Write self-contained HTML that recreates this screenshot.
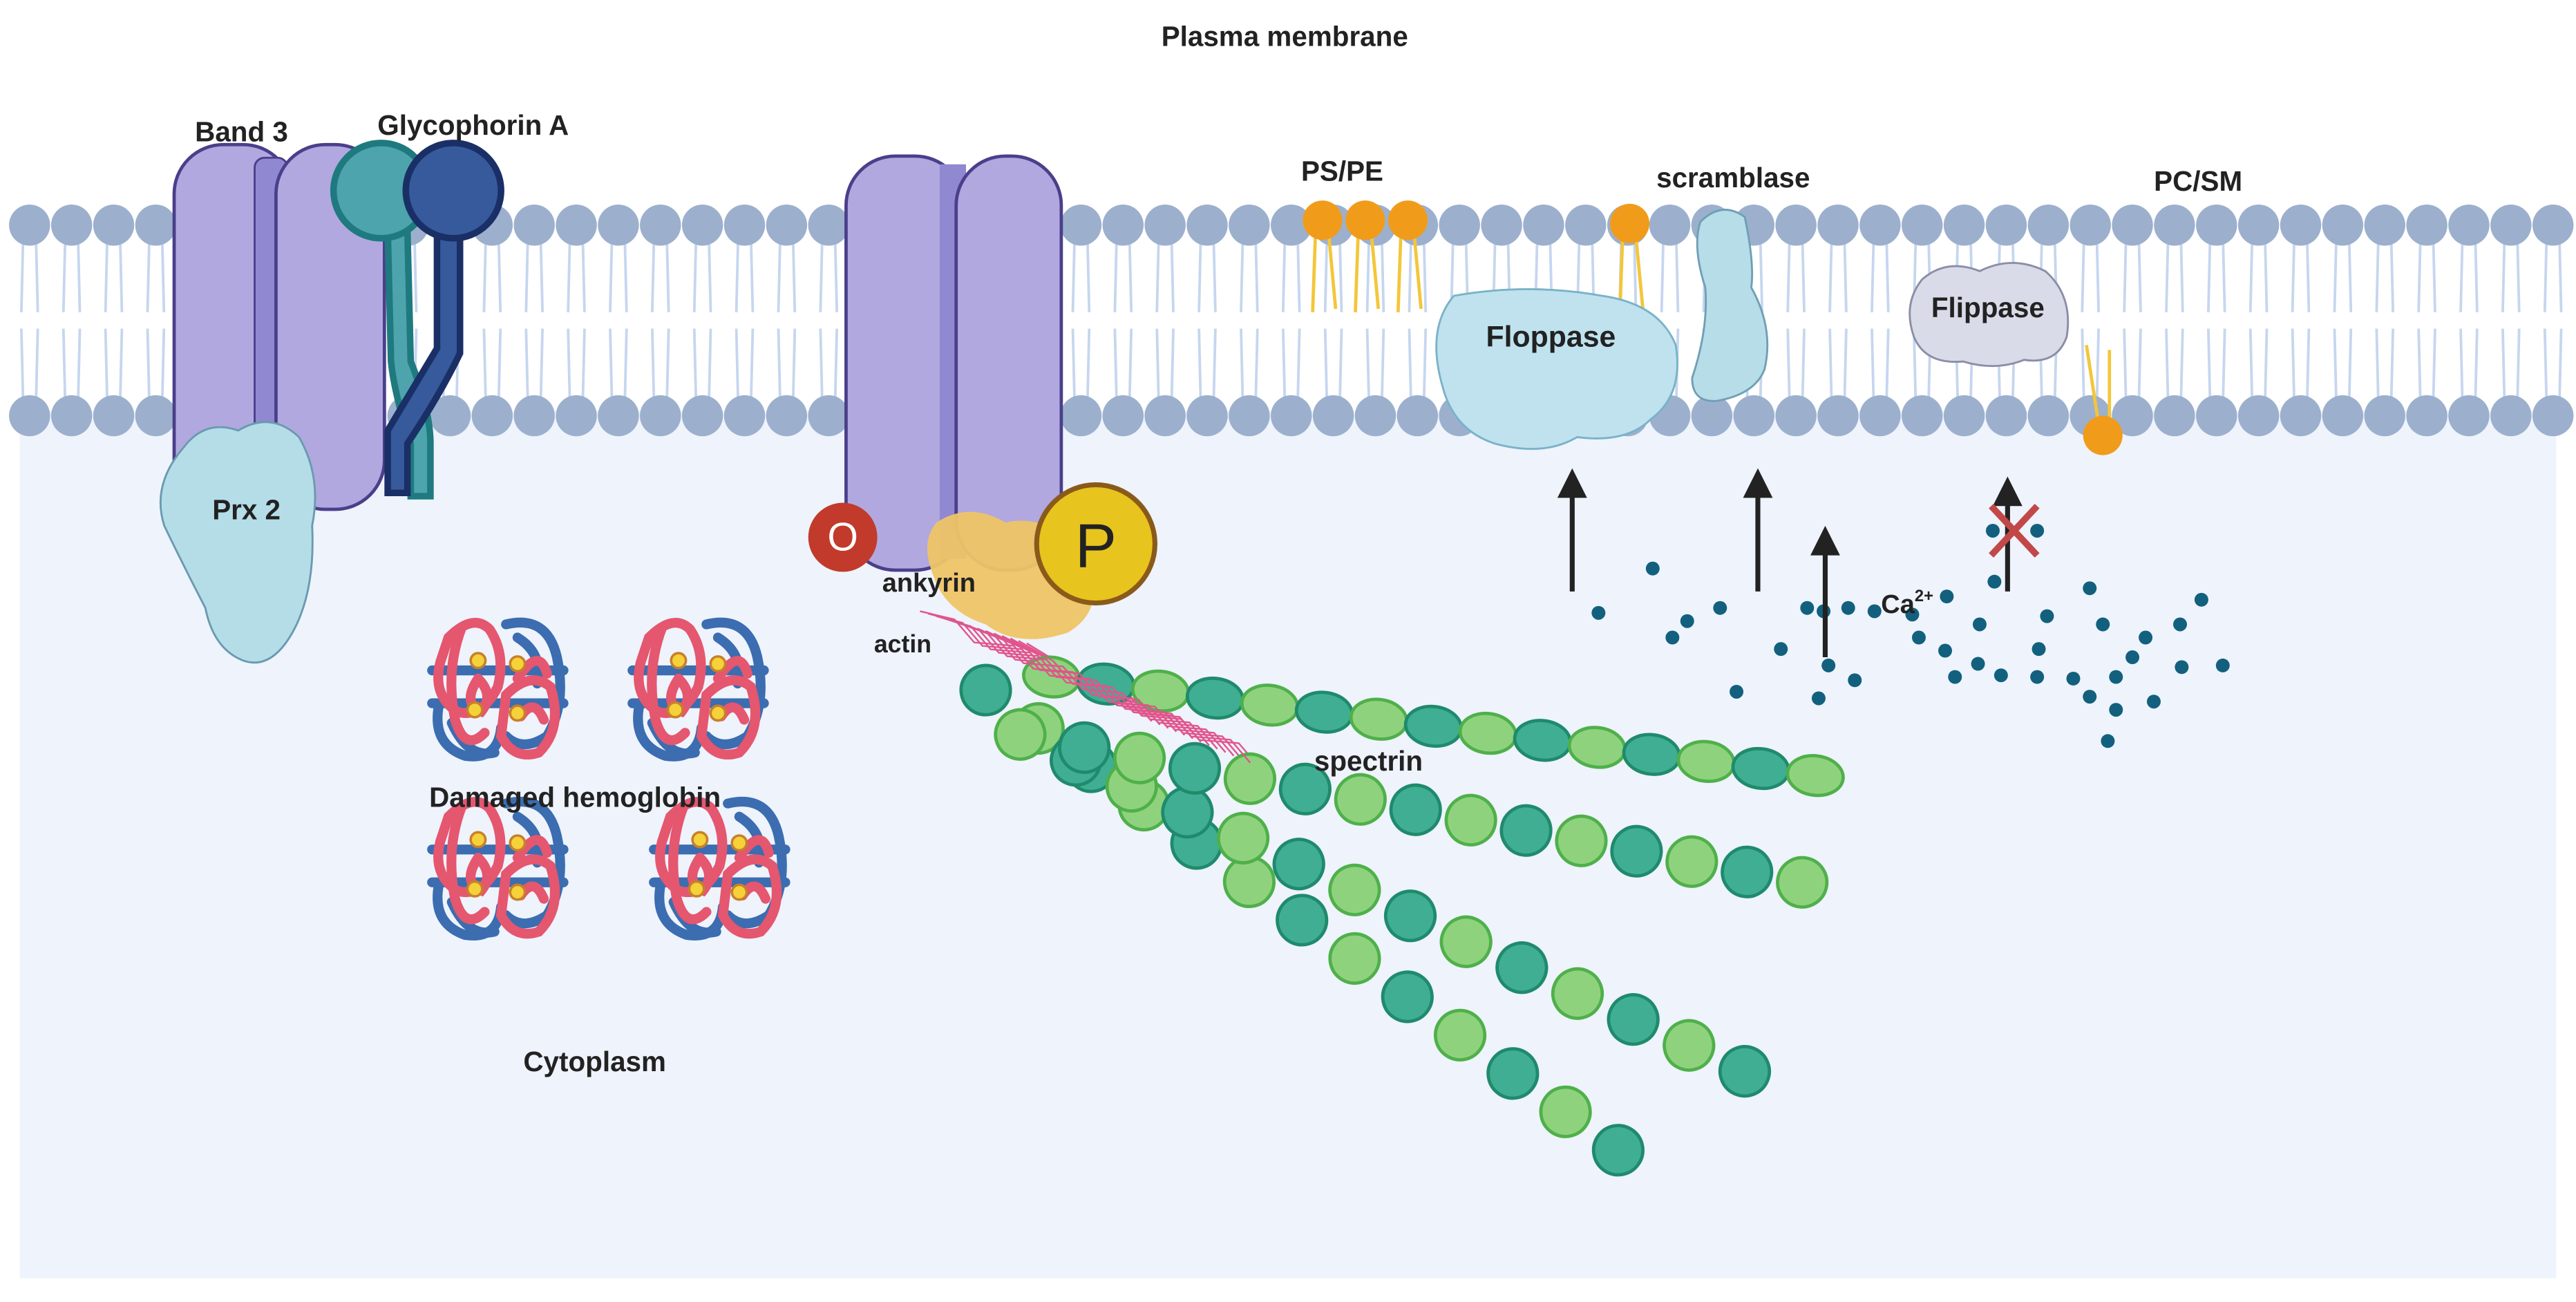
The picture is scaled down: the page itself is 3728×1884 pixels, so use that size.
<!DOCTYPE html>
<html><head><meta charset="utf-8"><style>
html,body{margin:0;padding:0;background:#fff;}
svg{display:block;}
text{font-family:"Liberation Sans",Arial,sans-serif;font-weight:bold;fill:#222;}
</style></head><body>
<svg id="s" width="3728" height="1884" viewBox="0 0 1568 792.4" xmlns="http://www.w3.org/2000/svg">
<rect x="0" y="0" width="1568" height="792.4" fill="#ffffff"/>
<rect x="12" y="250" width="1544" height="528" fill="#eef3fc"/>
<g id="tails" stroke="#c6d6ef" stroke-width="1.6" fill="none"></g>
<g id="heads" fill="#9cb0cd"></g>
<g id="lip"></g>

<!-- Band 3 -->
<rect x="106" y="88" width="72" height="222" rx="30" fill="#b1a8e0" stroke="#4a3f8a" stroke-width="2"/>
<rect x="155" y="96" width="20" height="200" rx="6" fill="#9088d0" stroke="#4a3f8a" stroke-width="1.2"/>
<rect x="168" y="88" width="66" height="222" rx="30" fill="#b1a8e0" stroke="#4a3f8a" stroke-width="2"/>
<!-- Glycophorin A -->
<path d="M236,140 L248,140 L250,220 Q262,250 262,270 L262,302 L250,302 L250,270 Q240,240 238,220 Z" fill="#4da4ac" stroke="#1e7a7f" stroke-width="4"/>
<circle cx="232" cy="116" r="29" fill="#4da4ac" stroke="#1e7a7f" stroke-width="4"/>
<path d="M266,140 L280,140 L280,215 Q268,240 248,270 L248,300 L236,300 L236,262 Q254,232 266,212 Z" fill="#365a9c" stroke="#1a2f66" stroke-width="4"/>
<circle cx="276" cy="116" r="29" fill="#365a9c" stroke="#1a2f66" stroke-width="4"/>
<!-- Prx2 -->
<path d="M112,272 Q125,255 145,262 Q165,250 182,266 Q196,290 190,320 Q192,360 178,385 Q165,408 148,402 Q130,395 125,370 Q112,345 100,320 Q92,295 112,272 Z" fill="#b4dde8" stroke="#6a9ab0" stroke-width="1.2"/>
<text x="150" y="316" font-size="17" text-anchor="middle">Prx 2</text>

<!-- second channel -->
<rect x="515" y="95" width="72" height="252" rx="30" fill="#b1a8e0" stroke="#4a3f8a" stroke-width="2"/>
<rect x="572" y="100" width="16" height="240" fill="#9088d0"/>
<rect x="582" y="95" width="64" height="252" rx="30" fill="#b1a8e0" stroke="#4a3f8a" stroke-width="2"/>
<!-- ankyrin -->
<path d="M570,318 Q590,305 612,318 Q640,312 660,340 Q675,370 650,385 Q620,395 600,380 Q575,372 568,350 Q560,330 570,318 Z" fill="#eec466" opacity="0.95"/>
<circle cx="513" cy="327" r="21" fill="#c23a2b"/>
<text x="513" y="335" font-size="24" text-anchor="middle" style="font-weight:normal;fill:#fff">O</text>
<circle cx="667" cy="331" r="36" fill="#e8c41e" stroke="#8a5a1a" stroke-width="3"/>
<text x="667" y="345" font-size="38" text-anchor="middle" style="font-weight:normal;fill:#222">P</text>
<text x="537" y="360" font-size="16">ankyrin</text>
<text x="532" y="397" font-size="15">actin</text>
<g id="actin" stroke="#e0558c" stroke-width="1" fill="none"></g>

<g id="spec"></g>
<g id="actin2" stroke="#e0558c" stroke-width="1" fill="none"></g>
<text x="833" y="469" font-size="17" text-anchor="middle">spectrin</text>

<g id="hb"></g>
<text x="350" y="491" font-size="17" text-anchor="middle">Damaged hemoglobin</text>
<text x="362" y="652" font-size="17" text-anchor="middle">Cytoplasm</text>

<!-- Floppase -->
<path d="M885,180 Q930,172 975,180 Q1010,185 1020,210 Q1025,240 1005,255 Q990,270 960,266 Q940,278 910,270 Q885,262 878,235 Q868,200 885,180 Z" fill="#bfe2ee" stroke="#7ab2c8" stroke-width="1.2"/>
<text x="944" y="211" font-size="18" text-anchor="middle">Floppase</text>
<!-- scramblase -->
<path d="M1035,135 Q1048,122 1062,132 Q1068,160 1066,175 Q1080,200 1074,225 Q1068,240 1045,244 Q1030,245 1030,230 Q1040,200 1038,175 Q1030,150 1035,135 Z" fill="#b6dde8" stroke="#6f9fb5" stroke-width="1.2"/>
<!-- Flippase -->
<path d="M1170,170 Q1185,157 1205,165 Q1225,155 1245,165 Q1262,180 1258,205 Q1252,222 1232,219 Q1215,226 1195,220 Q1172,222 1165,205 Q1158,185 1170,170 Z" fill="#d9dbe8" stroke="#8a8ea6" stroke-width="1.2"/>
<text x="1210" y="193" font-size="17" text-anchor="middle">Flippase</text>

<g id="ca" fill="#12607e"></g>
<g id="arrows"></g>
<path d="M1212,308 L1240,338 M1240,308 L1212,338" stroke="#c24848" stroke-width="4"/>
<text x="1145" y="373" font-size="16">Ca<tspan font-size="10" dy="-7">2+</tspan></text>

<text x="782" y="28" font-size="17" text-anchor="middle">Plasma membrane</text>
<text x="147" y="86" font-size="17" text-anchor="middle">Band 3</text>
<text x="288" y="82" font-size="17" text-anchor="middle">Glycophorin A</text>
<text x="817" y="110" font-size="17" text-anchor="middle">PS/PE</text>
<text x="1055" y="114" font-size="17" text-anchor="middle">scramblase</text>
<text x="1338" y="116" font-size="17" text-anchor="middle">PC/SM</text>
</svg>
<script>
var NS="http://www.w3.org/2000/svg";
function el(p,t,a){var e=document.createElementNS(NS,t);for(var k in a)e.setAttribute(k,a[k]);document.getElementById(p).appendChild(e);return e;}
function skip(x){ if(x>98&&x<240)return true; if(x>505&&x<655)return true; return false;}
for(var x=18;x<1560;x+=25.6){
  if(skip(x))continue;
  el("tails","path",{d:"M"+(x-4)+",148 L"+(x-5)+",190 M"+(x+4)+",148 L"+(x+5)+",190"});
  el("tails","path",{d:"M"+(x-4)+",242 L"+(x-5)+",200 M"+(x+4)+",242 L"+(x+5)+",200"});
  el("heads","circle",{cx:x,cy:137,r:12.5});
  el("heads","circle",{cx:x,cy:253,r:12.5});
}
[[805,134],[831,134],[857,134],[992,136]].forEach(function(p){
  el("lip","path",{d:"M"+(p[0]-4)+","+p[1]+" L"+(p[0]-6)+",190 M"+(p[0]+3)+","+p[1]+" L"+(p[0]+8)+",188",stroke:"#f3c63a","stroke-width":2,fill:"none"});
  el("lip","circle",{cx:p[0],cy:p[1],r:12,fill:"#f09c1a"});
});
el("lip","path",{d:"M1270,210 L1278,262 M1284,213 L1284,262",stroke:"#f3c63a","stroke-width":2,fill:"none"});
el("lip","circle",{cx:1280,cy:265,r:12,fill:"#f09c1a"});
var chains=[[600,420,985,700,13],[621,447,1062,652,14],[660,455,1097,537,14],[640,412,1105,472,15]];
chains.forEach(function(c,ci){
  var n=c[4];var ang=Math.atan2(c[3]-c[1],c[2]-c[0])*180/Math.PI;
  for(var i=0;i<n;i++){
    var t=i/(n-1);var x=c[0]+(c[2]-c[0])*t,y=c[1]+(c[3]-c[1])*t;
    var g=((i+ci)%2==0);
    var rx=ci==3?17:15, ry=ci==3?12:15;
    el("spec","ellipse",{cx:x,cy:y,rx:rx,ry:ry,transform:"rotate("+ang+" "+x+" "+y+")",fill:g?"#3fae92":"#8fd27e",stroke:g?"#1f8a6c":"#4fb04a","stroke-width":2});
  }
});
for(var i=0;i<14;i++){
  var x0=560+i*5,y0=372+i*1.5;
  var d="M"+x0+","+y0;
  for(var k=1;k<=8;k++){d+=" L"+(x0+k*18+(k%2?3:-3))+","+(y0+k*8+(k%2?-3:3)+i*0.6);}
  el(i%2?"actin":"actin2","path",{d:d});
}
function hb(cx,cy){
  var g=el("hb","g",{transform:"translate("+cx+","+cy+")"});
  function loop(d,col){var p=document.createElementNS(NS,"path");p.setAttribute("d",d);p.setAttribute("fill","none");p.setAttribute("stroke",col);p.setAttribute("stroke-width",6);p.setAttribute("stroke-linecap","round");g.appendChild(p);}
  loop("M5,-38 Q30,-44 36,-18 Q42,10 30,30 Q15,40 5,30","#3b6db0");
  loop("M-36,12 Q-40,35 -20,42 Q0,45 2,25","#3b6db0");
  loop("M-28,22 Q-18,44 -2,40 M12,-30 Q28,-20 24,-2","#3b6db0");
  loop("M-40,-10 L40,-10 M-40,10 L40,10","#3b6db0");
  loop("M-30,-30 Q-15,-45 -5,-35 Q5,-20 0,0 Q-10,20 -25,15 Q-40,5 -35,-15 Z","#e5566f");
  loop("M-22,-36 Q-32,-10 -26,20 Q-20,40 -8,28","#e5566f");
  loop("M5,5 Q20,-10 32,0 Q40,25 25,40 Q10,45 2,30 Z","#e5566f");
  loop("M-12,-5 Q-2,5 -10,15 Q-22,10 -12,-5","#e5566f");
  loop("M12,-5 Q25,-25 30,-8 M14,18 Q22,6 28,20","#e5566f");
  [[-12,-16],[12,-14],[-14,14],[12,16]].forEach(function(p){var c=document.createElementNS(NS,"circle");c.setAttribute("cx",p[0]);c.setAttribute("cy",p[1]);c.setAttribute("r",4.5);c.setAttribute("fill","#f5d13a");c.setAttribute("stroke","#c8802a");c.setAttribute("stroke-width",1.5);g.appendChild(c);});
}
hb(303,418);hb(425,418);hb(303,527);hb(438,527);
var dots=[[973,373],[1006,346],[1027,378],[1047,370],[1018,388],[1057,421],[1084,395],[1100,370],[1110,372],[1125,370],[1141,372],[1164,374],[1168,388],[1185,363],[1184,396],[1214,354],[1240,323],[1213,323],[1246,375],[1241,395],[1272,358],[1280,380],[1288,412],[1306,388],[1328,406],[1340,365],[1353,405],[1190,412],[1204,404],[1218,411],[1240,412],[1262,413],[1272,424],[1288,432],[1298,400],[1311,427],[1327,380],[1283,451],[1107,425],[1129,414],[1113,405],[1205,380]];
dots.forEach(function(p){el("ca","circle",{cx:p[0],cy:p[1],r:4.2});});
[[957,360,285],[1070,360,285],[1111,400,320],[1222,360,290]].forEach(function(a){
  var x=a[0];
  el("arrows","line",{x1:x,y1:a[1],x2:x,y2:a[2]+14,stroke:"#222","stroke-width":3});
  el("arrows","path",{d:"M"+(x-9)+","+(a[2]+18)+" L"+x+","+a[2]+" L"+(x+9)+","+(a[2]+18)+" Z",fill:"#222"});
});
</script>
</body></html>
